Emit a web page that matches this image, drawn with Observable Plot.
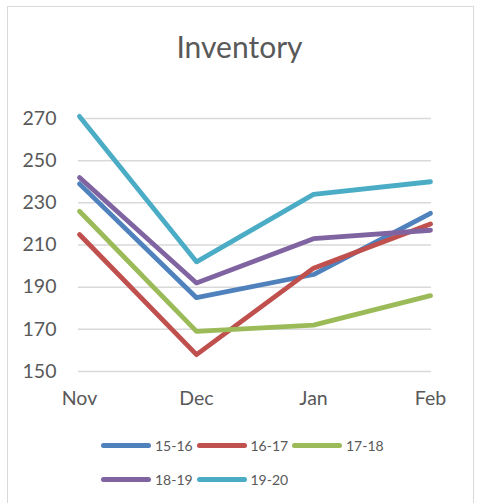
<!DOCTYPE html>
<html>
<head>
<meta charset="utf-8">
<script src="https://cdn.jsdelivr.net/npm/d3@7"></script>
<script src="https://cdn.jsdelivr.net/npm/@observablehq/plot@0.6"></script>
<style>
  html, body { margin: 0; padding: 0; background: #fff; }
  body { width: 479px; height: 503px; position: relative; overflow: hidden; font-family: Lato, "Open Sans", sans-serif; }
  #frame { position: absolute; left: 7px; top: 6px; width: 467px; height: 520px; border: 1px solid #d9d9d9; box-sizing: border-box; }
  #title { position: absolute; left: 0; width: 479px; top: 28px; text-align: center; font-size: 30px; color: #595959; line-height: 36px; }
  #chart { position: absolute; left: 0; top: 0; }
  .leg { position: absolute; display: flex; align-items: center; font-size: 14px; color: #595959; }
  .leg .sw { width: 50px; height: 5px; border-radius: 3px; margin-right: 4px; }
</style>
</head>
<body>
<div id="frame"></div>
<div id="title">Inventory</div>
<div id="chart"></div>
<div id="legend"></div>
<script>
const months = ["Nov", "Dec", "Jan", "Feb"];
const seriesNames = ["15-16", "16-17", "17-18", "18-19", "19-20"];
const seriesColors = ["#4F81BD", "#C0504D", "#9BBB59", "#8064A2", "#4BACC6"];
const s1516 = [239, 185, 196, 225];
const s1617 = [215, 158, 199, 220];
const s1718 = [226, 169, 172, 186];
const s1819 = [242, 192, 213, 217];
const s1920 = [271, 202, 234, 240];
const yTicks = [150, 170, 190, 210, 230, 250, 270];

const seriesValues = [s1516, s1617, s1718, s1819, s1920];
const rows = [];
seriesNames.forEach((name, i) => {
  months.forEach((m, j) => rows.push({series: name, month: m, value: seriesValues[i][j]}));
});

const plot = Plot.plot({
  width: 479,
  height: 420,
  marginLeft: 78,
  marginRight: 48,
  marginTop: 118,
  marginBottom: 49,
  style: {fontFamily: "Lato, 'Open Sans', sans-serif", color: "#595959", background: "transparent"},
  x: {type: "point", domain: months, padding: 0, label: null},
  y: {domain: [150, 270], ticks: yTicks, label: null},
  color: {domain: seriesNames, range: seriesColors},
  marks: [
    Plot.gridY(yTicks, {stroke: "#d9d9d9", strokeOpacity: 1, strokeWidth: 1.5}),
    Plot.axisY(yTicks, {tickSize: 0, tickPadding: 22, fontSize: 19.5, fill: "#595959", label: null}),
    Plot.axisX(months, {tickSize: 0, tickPadding: 20, fontSize: 19.5, fill: "#595959", label: null}),
    Plot.line(rows, {x: "month", y: "value", z: "series", stroke: "series", strokeWidth: 4.8, strokeLinejoin: "round", strokeLinecap: "round"})
  ]
});
document.getElementById("chart").appendChild(plot);

const legend = document.getElementById("legend");
seriesNames.forEach((name, i) => {
  const col = i % 3, row = Math.floor(i / 3);
  const item = document.createElement("div");
  item.className = "leg";
  item.style.left = (101 + col * 95.5) + "px";
  item.style.top = (435 + row * 34) + "px";
  item.style.height = "20px";
  const sw = document.createElement("div");
  sw.className = "sw";
  sw.style.background = seriesColors[i];
  const lab = document.createElement("span");
  lab.textContent = name;
  item.appendChild(sw);
  item.appendChild(lab);
  legend.appendChild(item);
});
</script>
</body>
</html>
